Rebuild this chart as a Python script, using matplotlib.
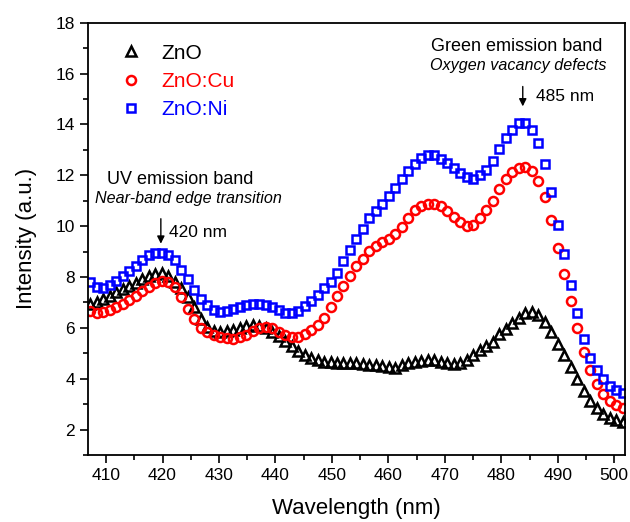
import matplotlib
matplotlib.use("Agg")
import matplotlib.pyplot as plt
from matplotlib.ticker import MultipleLocator

plt.rcParams['font.family'] = ['Liberation Sans', 'DejaVu Sans']

# wavelength grid (nm), shared by the three spectra
wavelength = [
    407.2, 408.35, 409.5, 410.65, 411.8, 412.95, 414.1, 415.25, 416.4, 417.55,
    418.7, 419.85, 421.0, 422.15, 423.3, 424.45, 425.6, 426.75, 427.9, 429.05,
    430.2, 431.35, 432.5, 433.65, 434.8, 435.95, 437.1, 438.25, 439.4, 440.55,
    441.7, 442.85, 444.0, 445.15, 446.3, 447.45, 448.6, 449.75, 450.9, 452.05,
    453.2, 454.35, 455.5, 456.65, 457.8, 458.95, 460.1, 461.25, 462.4, 463.55,
    464.7, 465.85, 467.0, 468.15, 469.3, 470.45, 471.6, 472.75, 473.9, 475.05,
    476.2, 477.35, 478.5, 479.65, 480.8, 481.95, 483.1, 484.25, 485.4, 486.55,
    487.7, 488.85, 490.0, 491.15, 492.3, 493.45, 494.6, 495.75, 496.9, 498.05,
    499.2, 500.35, 501.5,
]

zno = [
    6.93, 7.03, 7.12, 7.27, 7.40, 7.52, 7.65, 7.78, 7.92, 8.04,
    8.13, 8.15, 8.05, 7.82, 7.55, 7.20, 6.80, 6.35, 6.02, 5.88,
    5.84, 5.88, 5.93, 6.00, 6.07, 6.10, 6.07, 5.98, 5.85, 5.68,
    5.50, 5.28, 5.08, 4.95, 4.82, 4.72, 4.67, 4.64, 4.62, 4.61,
    4.61, 4.60, 4.58, 4.55, 4.52, 4.48, 4.45, 4.44, 4.52, 4.60,
    4.67, 4.71, 4.74, 4.72, 4.67, 4.62, 4.59, 4.60, 4.74, 4.92,
    5.12, 5.30, 5.46, 5.75, 5.95, 6.18, 6.40, 6.57, 6.63, 6.50,
    6.22, 5.82, 5.35, 4.92, 4.45, 3.97, 3.52, 3.13, 2.86, 2.62,
    2.46, 2.36, 2.30,
]

zno_cu = [
    6.65, 6.60, 6.62, 6.70, 6.82, 6.95, 7.10, 7.27, 7.45, 7.62,
    7.77, 7.85, 7.80, 7.60, 7.20, 6.75, 6.35, 6.00, 5.82, 5.70,
    5.64, 5.60, 5.58, 5.62, 5.72, 5.88, 6.00, 6.05, 5.98, 5.85,
    5.72, 5.64, 5.63, 5.74, 5.93, 6.13, 6.40, 6.80, 7.25, 7.65,
    8.05, 8.45, 8.72, 9.02, 9.22, 9.38, 9.50, 9.70, 9.98, 10.32,
    10.62, 10.80, 10.88, 10.86, 10.78, 10.58, 10.36, 10.15, 10.02, 10.05,
    10.30, 10.62, 10.98, 11.45, 11.85, 12.12, 12.30, 12.32, 12.15, 11.78,
    11.15, 10.25, 9.15, 8.10, 7.05, 6.00, 5.05, 4.35, 3.80, 3.38,
    3.12, 2.95, 2.85,
]

zno_ni = [
    7.80, 7.60, 7.58, 7.68, 7.85, 8.05, 8.25, 8.45, 8.65, 8.85,
    8.95, 8.95, 8.88, 8.65, 8.28, 7.92, 7.50, 7.12, 6.88, 6.69,
    6.62, 6.68, 6.76, 6.82, 6.88, 6.93, 6.95, 6.90, 6.82, 6.70,
    6.59, 6.58, 6.68, 6.85, 7.06, 7.30, 7.55, 7.82, 8.15, 8.62,
    9.08, 9.48, 9.90, 10.30, 10.58, 10.86, 11.20, 11.48, 11.84, 12.17,
    12.46, 12.66, 12.80, 12.80, 12.63, 12.47, 12.27, 12.07, 11.92, 11.87,
    12.00, 12.22, 12.55, 13.05, 13.45, 13.80, 14.05, 14.05, 13.80, 13.25,
    12.45, 11.35, 10.05, 8.90, 7.68, 6.60, 5.58, 4.80, 4.33, 3.98,
    3.73, 3.55, 3.42,
]

fig = plt.figure(figsize=(6.3, 5.22), dpi=100)
ax = fig.add_axes([0.1397, 0.1284, 0.8523, 0.8281])

mk = dict(linestyle='none', markerfacecolor='none', markeredgewidth=1.8)
ax.plot(wavelength, zno, marker='^', markersize=6.5, color='black', label='ZnO', **mk)
ax.plot(wavelength, zno_cu, marker='o', markersize=6.5, color='#ff0000', label='ZnO:Cu', **mk)
ax.plot(wavelength, zno_ni, marker='s', markersize=5.5, color='#0000ff', label='ZnO:Ni', **mk)

ax.set_xlim(406.8, 501.9)
ax.set_ylim(1, 18)
ax.xaxis.set_major_locator(MultipleLocator(10))
ax.xaxis.set_minor_locator(MultipleLocator(5))
ax.yaxis.set_major_locator(MultipleLocator(2))
ax.yaxis.set_minor_locator(MultipleLocator(1))
ax.tick_params(which='both', direction='out', top=False, right=False,
               labelsize=12.5, width=1.2, colors='black')
ax.tick_params(which='major', length=6)
ax.tick_params(which='minor', length=3.5)
for s in ax.spines.values():
    s.set_linewidth(1.3)

ax.set_xlabel('Wavelength (nm)', fontsize=16, labelpad=11)
ax.set_ylabel('Intensity (a.u.)', fontsize=16, labelpad=13)

leg = ax.legend(loc='upper left', bbox_to_anchor=(0.025, 0.995), frameon=False,
                fontsize=15, handlelength=1.0, handletextpad=1.0,
                labelspacing=0.45, numpoints=1, labelcolor='markeredgecolor')

# band annotations
ax.text(423.1, 11.85, 'UV emission band', fontsize=13, ha='center', va='center')
ax.text(424.5, 11.1, 'Near-band edge transition', fontsize=11.6, style='italic',
        ha='center', va='center')
ax.annotate('', xy=(419.7, 9.2), xytext=(419.7, 10.4),
            arrowprops=dict(arrowstyle='-|>', color='black', lw=1.0, mutation_scale=11))
ax.text(421.1, 9.76, '420 nm', fontsize=12.5, ha='left', va='center')

ax.text(482.8, 17.05, 'Green emission band', fontsize=13, ha='center', va='center')
ax.text(483.0, 16.3, 'Oxygen vacancy defects', fontsize=11.6, style='italic',
        ha='center', va='center')
ax.annotate('', xy=(483.8, 14.6), xytext=(483.8, 15.6),
            arrowprops=dict(arrowstyle='-|>', color='black', lw=1.0, mutation_scale=11))
ax.text(486.1, 15.1, '485 nm', fontsize=12.5, ha='left', va='center')

fig.savefig('out.png', dpi=100)
